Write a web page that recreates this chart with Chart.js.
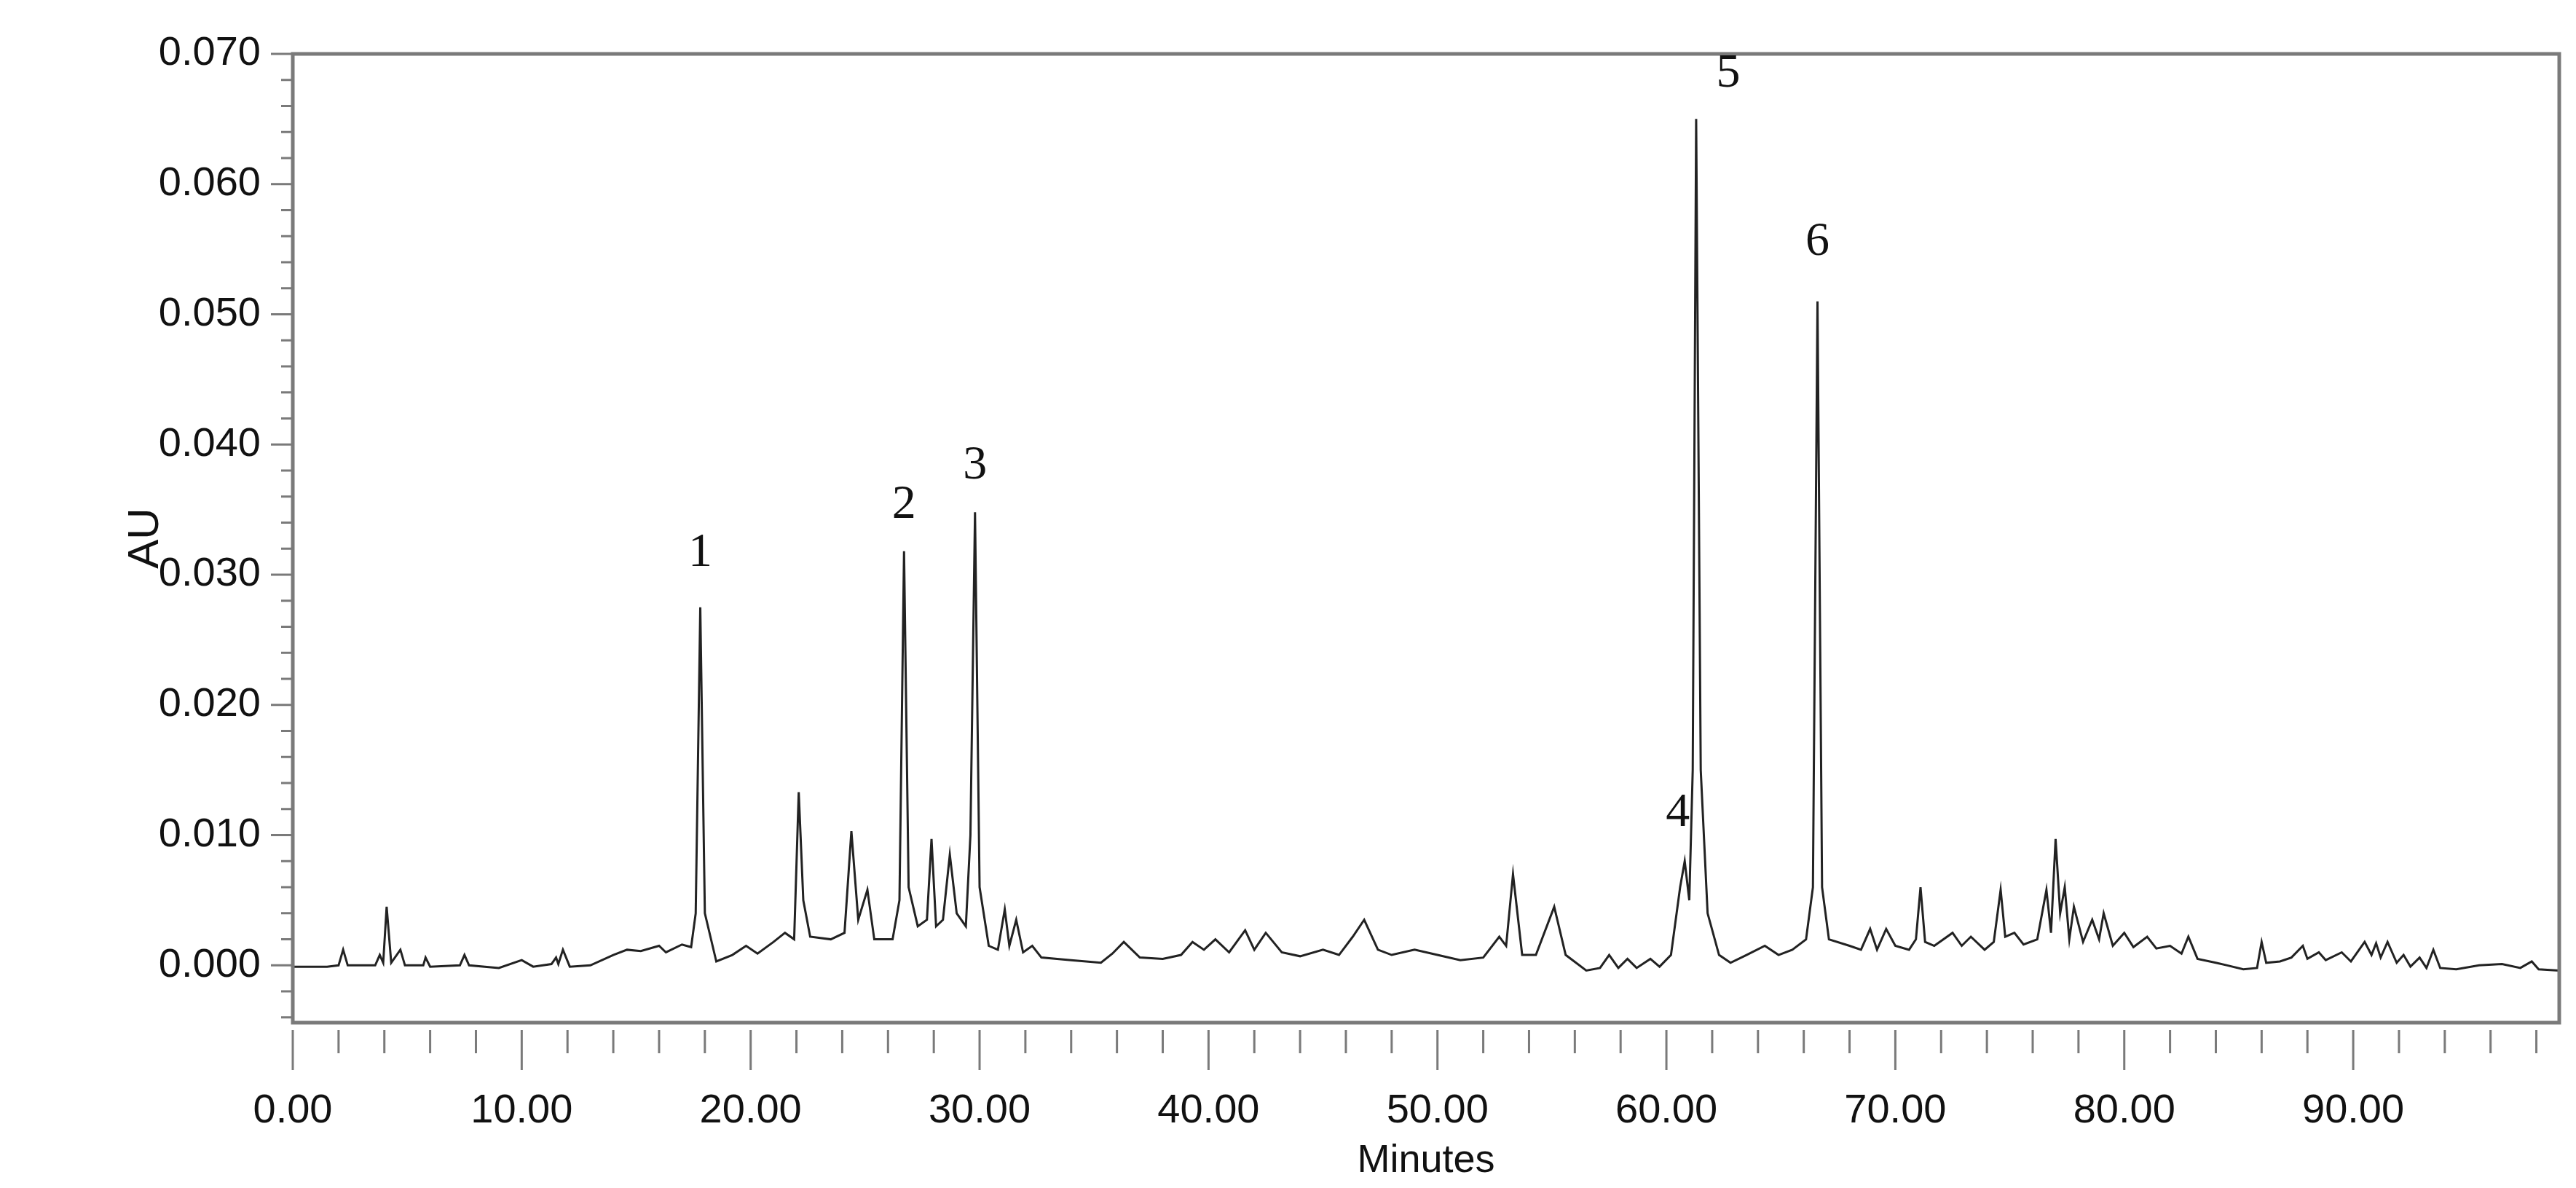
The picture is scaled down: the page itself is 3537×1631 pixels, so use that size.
<!DOCTYPE html>
<html>
<head>
<meta charset="utf-8">
<script src="https://cdn.jsdelivr.net/npm/chart.js@4/dist/chart.umd.min.js"></script>
<style>
  html, body {margin: 0; padding: 0; background: #fff;}
  canvas {display: block;}
</style>
</head>
<body>
<canvas id="chart" width="3537" height="1631"></canvas>
<script>
/* chromatogram: [minutes, AU] */
const TRACE = [
  [0, -0.0001], [1.5, -0.0001], [2.0, 0], [2.2, 0.0012], [2.4, 0], [3.6, 0], [3.8, 0.0008], [3.95, 0.0002],
  [4.1, 0.0045], [4.3, 0.0002], [4.7, 0.0012], [4.9, 0], [5.7, 0], [5.8, 0.0006], [6.0, -0.0001],
  [7.3, 0], [7.5, 0.0008], [7.7, 0], [9, -0.0002], [10, 0.0004], [10.5, -0.0001], [11.3, 0.0001],
  [11.5, 0.0006], [11.6, 0.0001], [11.8, 0.0012], [12.1, -0.0001], [13, 0], [14, 0.0008],
  [14.6, 0.0012], [15.2, 0.0011], [16, 0.0015], [16.3, 0.001], [17, 0.0016], [17.4, 0.0014],
  [17.6, 0.004], [17.8, 0.0275], [18.0, 0.004], [18.5, 0.0003], [19.2, 0.0008], [19.8, 0.0015],
  [20.3, 0.0009], [21.0, 0.0018], [21.5, 0.0025], [21.9, 0.002], [22.1, 0.0133], [22.3, 0.005],
  [22.6, 0.0022], [23.5, 0.002], [24.1, 0.0025], [24.4, 0.0103], [24.7, 0.0035], [25.1, 0.0058],
  [25.4, 0.002], [26.2, 0.002], [26.5, 0.005], [26.7, 0.0318], [26.9, 0.006], [27.3, 0.003],
  [27.7, 0.0035], [27.9, 0.0097], [28.1, 0.003], [28.4, 0.0035], [28.7, 0.0085], [29.0, 0.004],
  [29.4, 0.003], [29.6, 0.01], [29.8, 0.0348], [30.0, 0.006], [30.4, 0.0015], [30.8, 0.0012],
  [31.1, 0.0043], [31.3, 0.0015], [31.6, 0.0035], [31.9, 0.001], [32.3, 0.0015], [32.7, 0.0006],
  [34, 0.0004], [35.3, 0.0002], [35.8, 0.0009], [36.3, 0.0018], [37, 0.0006], [38, 0.0005],
  [38.8, 0.0008], [39.3, 0.0018], [39.8, 0.0012], [40.3, 0.002], [40.9, 0.001], [41.6, 0.0027],
  [42.0, 0.0012], [42.5, 0.0025], [43.2, 0.001], [44, 0.0007], [45, 0.0012], [45.7, 0.0008],
  [46.3, 0.0022], [46.8, 0.0035], [47.4, 0.0012], [48, 0.0008], [49, 0.0012], [50, 0.0008],
  [51, 0.0004], [52, 0.0006], [52.7, 0.0022], [53.0, 0.0015], [53.3, 0.007], [53.7, 0.0008],
  [54.3, 0.0008], [55.1, 0.0045], [55.6, 0.0008], [56.5, -0.0004], [57.1, -0.0002], [57.5, 0.0008],
  [57.9, -0.0002], [58.3, 0.0005], [58.7, -0.0002], [59.3, 0.0005], [59.7, -0.0001], [60.2, 0.0008],
  [60.6, 0.006], [60.8, 0.008], [61.0, 0.005], [61.15, 0.015], [61.3, 0.065], [61.5, 0.015],
  [61.8, 0.004], [62.3, 0.0008], [62.8, 0.0002], [63.5, 0.0008], [64.3, 0.0015], [64.9, 0.0008],
  [65.5, 0.0012], [66.1, 0.002], [66.4, 0.006], [66.6, 0.051], [66.8, 0.006], [67.1, 0.002],
  [68, 0.0015], [68.5, 0.0012], [68.9, 0.0028], [69.2, 0.0012], [69.6, 0.0028], [70.0, 0.0015],
  [70.6, 0.0012], [70.9, 0.002], [71.1, 0.006], [71.3, 0.0018], [71.7, 0.0015], [72.5, 0.0025],
  [72.9, 0.0015], [73.3, 0.0022], [73.9, 0.0012], [74.3, 0.0018], [74.6, 0.0058], [74.8, 0.0022],
  [75.2, 0.0025], [75.6, 0.0016], [76.2, 0.002], [76.6, 0.0058], [76.8, 0.0025], [77.0, 0.0097],
  [77.2, 0.004], [77.4, 0.006], [77.6, 0.002], [77.8, 0.0045], [78.2, 0.0018], [78.6, 0.0035],
  [78.9, 0.002], [79.1, 0.004], [79.5, 0.0015], [80, 0.0025], [80.4, 0.0014], [81, 0.0022],
  [81.4, 0.0013], [82, 0.0015], [82.5, 0.0009], [82.8, 0.0022], [83.2, 0.0005], [84, 0.0002],
  [84.5, 0], [85.2, -0.0003], [85.8, -0.0002], [86.0, 0.0018], [86.2, 0.0002], [86.8, 0.0003],
  [87.3, 0.0006], [87.8, 0.0015], [88.0, 0.0005], [88.5, 0.001], [88.8, 0.0004], [89.5, 0.001],
  [89.9, 0.0003], [90.5, 0.0018], [90.8, 0.0008], [91.0, 0.0017], [91.2, 0.0006], [91.5, 0.0018],
  [91.9, 0.0002], [92.2, 0.0008], [92.5, -0.0001], [92.9, 0.0006], [93.2, -0.0002], [93.5, 0.0012],
  [93.8, -0.0002], [94.5, -0.0003], [95.5, 0], [96.5, 0.0001], [97.3, -0.0002], [97.8, 0.0003],
  [98.1, -0.0003], [99, -0.0004]
];

const PEAK_NUMBERS = ['1', '2', '3', '4', '5', '6'];
const PEAK_X = [17.8, 26.7, 29.8, 60.5, 62.7, 66.6];
const PEAK_Y = [0.0298, 0.0335, 0.0365, 0.0098, 0.0666, 0.0537];

const Y_TICKS = [0, 0.01, 0.02, 0.03, 0.04, 0.05, 0.06, 0.07];
const X_TICKS = [0, 10, 20, 30, 40, 50, 60, 70, 80, 90];

const FRAME = '#7a7a7a';
const TICK_FONT = '"Liberation Sans Narrow", "Liberation Sans", Arial, sans-serif';

const frameAndTicks = {
  id: 'frameAndTicks',
  afterDraw(chart) {
    const {ctx, chartArea: a, scales: {x, y}} = chart;
    ctx.save();
    ctx.strokeStyle = FRAME;
    ctx.lineWidth = 5;
    ctx.strokeRect(a.left, a.top, a.right - a.left, a.bottom - a.top);
    ctx.lineWidth = 3;
    ctx.beginPath();
    // y ticks, minor every 0.002
    for (let i = -2; i <= 35; i++) {
      const py = y.getPixelForValue(i * 0.002);
      if (py < a.top - 1 || py > a.bottom) continue;
      const len = i % 5 === 0 ? 30 : 16;
      ctx.moveTo(a.left, py); ctx.lineTo(a.left - len, py);
    }
    // x ticks, minor every 2
    for (let i = 0; i <= 49; i++) {
      const px = x.getPixelForValue(i * 2);
      if (px > a.right) continue;
      const len = i % 5 === 0 ? 55 : 32;
      ctx.moveTo(px, a.bottom + 10); ctx.lineTo(px, a.bottom + 10 + len);
    }
    ctx.stroke();
    // peak numbers
    ctx.fillStyle = '#111';
    ctx.font = '66px "Liberation Serif", "Times New Roman", serif';
    ctx.textAlign = 'center';
    ctx.textBaseline = 'bottom';
    PEAK_NUMBERS.forEach((t, i) => {
      ctx.fillText(t, x.getPixelForValue(PEAK_X[i]), y.getPixelForValue(PEAK_Y[i]));
    });
    ctx.restore();
  }
};

new Chart(document.getElementById('chart').getContext('2d'), {
  type: 'line',
  data: {
    datasets: [{
      data: TRACE.map(([t, v]) => ({x: t, y: v})),
      borderColor: '#222',
      borderWidth: 3,
      pointRadius: 0,
      tension: 0,
      fill: false,
    }],
  },
  options: {
    responsive: false,
    animation: false,
    layout: {padding: {top: 74, right: 23, left: 160, bottom: 0}},
    plugins: {legend: {display: false}, tooltip: {enabled: false}},
    scales: {
      x: {
        type: 'linear', min: 0, max: 99,
        afterBuildTicks: (s) => { s.ticks = X_TICKS.map(v => ({value: v})); },
        afterFit: (s) => { s.height = 227; },
        grid: {display: false}, border: {display: false},
        ticks: {
          padding: 80, color: '#111', maxRotation: 0,
          font: {family: TICK_FONT, size: 56},
          callback: (v) => Number(v).toFixed(2),
        },
        title: {display: true, text: 'Minutes', color: '#111', padding: {top: 10},
                font: {family: TICK_FONT, size: 54}},
      },
      y: {
        type: 'linear', min: -0.0044, max: 0.070,
        afterBuildTicks: (s) => { s.ticks = Y_TICKS.map(v => ({value: v})); },
        afterFit: (s) => { s.width = 242; },
        grid: {display: false}, border: {display: false},
        ticks: {
          padding: 36, color: '#111',
          font: {family: TICK_FONT, size: 56},
          callback: (v) => Number(v).toFixed(3),
        },
        title: {display: true, text: 'AU', color: '#111', padding: {bottom: 0},
                font: {family: TICK_FONT, size: 60}},
      },
    },
  },
  plugins: [frameAndTicks],
});
</script>
</body>
</html>
